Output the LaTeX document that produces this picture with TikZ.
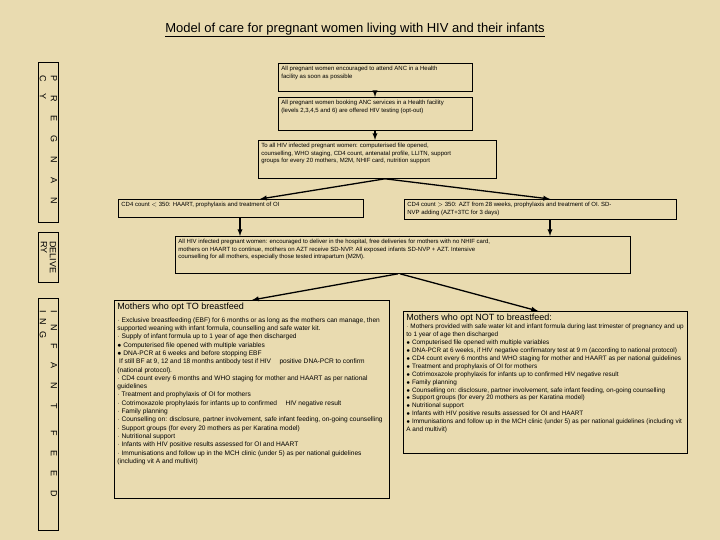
\documentclass[tikz,border=0pt]{standalone}
\usepackage{fontspec}
\setmainfont{Liberation Sans}
\definecolor{parch}{RGB}{233,219,176}
\newcommand{\bx}[3]{\parbox[c][#2pt][t]{#1pt}{\raggedright #3}}
\tikzset{
 box/.style={draw=black,line width=0.8pt,inner sep=3pt,anchor=north west,font=\fontsize{6}{7.6}\selectfont},
 side/.style={draw=black,line width=0.8pt,anchor=north west,inner sep=0pt,minimum width=20pt},
 arr/.style={-latex,line width=1.3pt},
}
\begin{document}
\begin{tikzpicture}[x=1pt,y=-1pt]
\fill[parch] (0,0) rectangle (720,540);
\useasboundingbox (0,0) rectangle (720,540);
\node (title) at (355,30) {\fontsize{13}{15}\selectfont\underline{Model of care for pregnant women living with HIV and their infants}};
% side labels
\node[side,minimum height=160pt] (pregbox) at (38,62) {};
\node[rotate=-90,font=\fontsize{9}{11}\selectfont,align=left] (preg) at (pregbox.center) {P\hspace{14pt}R\hspace{14pt}E\hspace{14pt}G\hspace{14pt}N\hspace{14pt}A\hspace{14pt}N\\C\hspace{12pt}Y\hspace{110pt}\mbox{}};
\node[side,minimum height=50pt] (delbox) at (38,232) {};
\node[rotate=-90,font=\fontsize{9}{9}\selectfont,align=left] (deliv) at (delbox.center) {DELIVE\\RY};
\node[side,minimum height=232pt] (feedbox) at (38,298) {};
\node[rotate=-90,font=\fontsize{9}{11}\selectfont,align=left] (feed) at (feedbox.center) {I\hspace{12pt}N\hspace{12pt}F\hspace{14pt}A\hspace{14pt}N\hspace{14pt}T\hspace{22pt}F\hspace{14pt}E\hspace{14pt}E\hspace{14pt}D\\I\hspace{6pt}N\hspace{6pt}G\hspace{180pt}\mbox{}};
% boxes
\node[box] (b1) at (278,63) {\bx{188}{22}{All pregnant women encouraged to attend ANC in a Health\\facility as soon as possible}};
\node[box] (b2) at (278,97) {\bx{188}{27}{All pregnant women booking ANC services in a Health facility\\(levels 2,3,4,5 and 6) are offered HIV testing (opt-out)}};
\node[box] (b3) at (258,140) {\bx{232}{32}{To all HIV infected pregnant women: computerised file opened,\\counselling, WHO staging, CD4 count, antenatal profile, LLITN, support\\groups for every 20 mothers, M2M, NHIF card, nutrition support}};
\node[box] (b4) at (118,199) {\bx{239}{12}{CD4 count $<$ 350: HAART, prophylaxis and treatment of OI}};
\node[box] (b5) at (404,199) {\bx{266}{14}{CD4 count $>$ 350: AZT from 28 weeks, prophylaxis and treatment of OI. SD-\\NVP adding (AZT+3TC for 3 days)}};
\node[box] (b6) at (175,236) {\bx{449}{31}{All HIV infected pregnant women: encouraged to deliver in the hospital, free deliveries for mothers with no NHIF card,\\mothers on HAART to continue, mothers on AZT receive SD-NVP. All exposed infants SD-NVP + AZT. Intensive\\counselling for all mothers, especially those tested intrapartum (M2M).}};
\node[box,font=\fontsize{6.6}{8.3}\selectfont] (b7) at (114,300) {\bx{269}{192}{{\fontsize{9}{12}\selectfont Mothers who opt TO breastfeed}\\[4pt]
$\cdot$ Exclusive breastfeeding (EBF) for 6 months or as long as the mothers can manage, then supported weaning with infant formula, counselling and safe water kit.\\
$\cdot$ Supply of infant formula up to 1 year of age then discharged\\
$\bullet$ Computerised file opened with multiple variables\\
$\bullet$ DNA-PCR at 6 weeks and before stopping EBF\\
\ If still BF at 9, 12 and 18 months antibody test if HIV \quad positive DNA-PCR to confirm (national protocol).\\
$\cdot$ CD4 count every 6 months and WHO staging for mother and HAART as per national guidelines\\
$\cdot$ Treatment and prophylaxis of OI for mothers\\
$\cdot$ Cotrimoxazole prophylaxis for infants up to confirmed \quad HIV negative result\\
$\cdot$ Family planning\\
$\cdot$ Counselling on: disclosure, partner involvement, safe infant feeding, on-going counselling\\
$\cdot$ Support groups (for every 20 mothers as per Karatina model)\\
$\cdot$ Nutritional support\\
$\cdot$ Infants with HIV positive results assessed for OI and HAART\\
$\cdot$ Immunisations and follow up in the MCH clinic (under 5) as per national guidelines (including vit A and multivit)}};
\node[box,font=\fontsize{6.4}{7.9}\selectfont] (b8) at (403,311) {\bx{278}{136}{{\fontsize{9}{10}\selectfont Mothers who opt NOT to breastfeed:}\\
$\cdot$ Mothers provided with safe water kit and infant formula during last trimester of pregnancy and up to 1 year of age then discharged\\
$\bullet$ Computerised file opened with multiple variables\\
$\bullet$ DNA-PCR at 6 weeks, if HIV negative confirmatory test at 9 m (according to national protocol)\\
$\bullet$ CD4 count every 6 months and WHO staging for mother and HAART as per national guidelines\\
$\bullet$ Treatment and prophylaxis of OI for mothers\\
$\bullet$ Cotrimoxazole prophylaxis for infants up to confirmed HIV negative result\\
$\bullet$ Family planning\\
$\bullet$ Counselling on: disclosure, partner involvement, safe infant feeding, on-going counselling\\
$\bullet$ Support groups (for every 20 mothers as per Karatina model)\\
$\bullet$ Nutritional support\\
$\bullet$ Infants with HIV positive results assessed for OI and HAART\\
$\bullet$ Immunisations and follow up in the MCH clinic (under 5) as per national guidelines (including vit A and multivit)}};
% arrows
\draw[arr] (b1.south -| 375,0) -- (b2.north -| 375,0);
\draw[arr] (b2.south -| 375,0) -- (b3.north -| 375,0);
\draw[arr] (b3.south -| 385,0) -- (b4.north -| 260,0);
\draw[arr] (b3.south -| 385,0) -- (b5.north -| 550,0);
\draw[arr] (b4.south -| 240,0) -- (b6.north -| 240,0);
\draw[arr] (b5.south -| 550,0) -- (b6.north -| 550,0);
\draw[arr] (b6.south -| 398,0) -- (b7.north -| 252,0);
\draw[arr] (b6.south -| 400,0) -- (b8.north -| 538,0);
\end{tikzpicture}
\end{document}
